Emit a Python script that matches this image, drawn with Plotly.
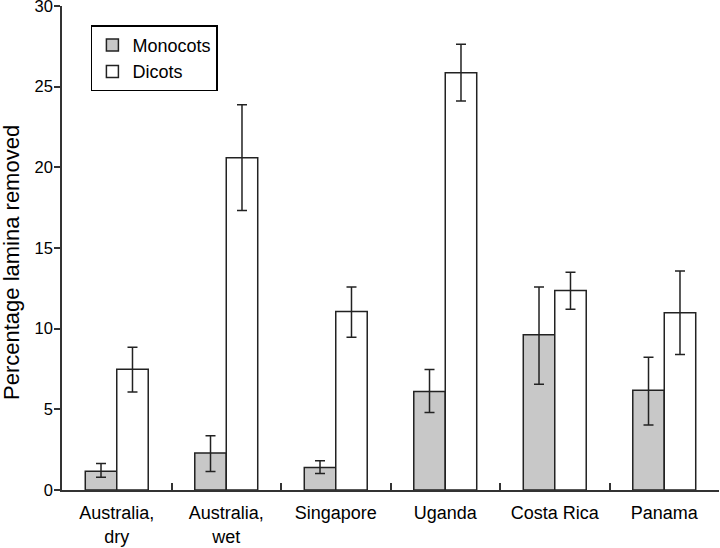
import plotly.graph_objects as go

cat_keys = ["Australia, dry", "Australia, wet", "Singapore", "Uganda", "Costa Rica", "Panama"]
tick_text = ["Australia,<br>dry", "Australia,<br>wet", "Singapore", "Uganda", "Costa Rica", "Panama"]

mono_vals = [1.16, 2.30, 1.39, 6.10, 9.62, 6.18]
mono_hi = [1.64, 3.37, 1.82, 7.47, 12.59, 8.23]
mono_lo = [0.79, 1.14, 1.02, 4.80, 6.56, 4.03]

dicot_vals = [7.49, 20.60, 11.07, 25.87, 12.37, 10.98]
dicot_hi = [8.85, 23.88, 12.59, 27.63, 13.49, 13.57]
dicot_lo = [6.08, 17.33, 9.47, 24.11, 11.21, 8.40]

y_ticks = [0, 5, 10, 15, 20, 25, 30]

def err(vals, hi, lo):
    return dict(type="data", symmetric=False,
                array=[h - v for h, v in zip(hi, vals)],
                arrayminus=[v - l for v, l in zip(vals, lo)],
                color="#222222", thickness=1.5, width=5)

fig = go.Figure()
fig.add_trace(go.Bar(name="Monocots", x=cat_keys, y=mono_vals,
                     marker=dict(color="#c8c8c8", line=dict(color="#222222", width=1.5)),
                     error_y=err(mono_vals, mono_hi, mono_lo)))
fig.add_trace(go.Bar(name="Dicots", x=cat_keys, y=dicot_vals,
                     marker=dict(color="white", line=dict(color="#222222", width=1.5)),
                     error_y=err(dicot_vals, dicot_hi, dicot_lo)))

font_family = "Liberation Sans, Arial, Helvetica, sans-serif"

fig.add_annotation(text="Percentage lamina removed", xref="paper", yref="paper",
                   x=0, xshift=-51, y=(490 - 263) / 484, textangle=-90,
                   xanchor="center", yanchor="middle", showarrow=False,
                   font=dict(family=font_family, size=22, color="black"))

fig.update_layout(
    width=720, height=548,
    margin=dict(l=62, r=1, t=6, b=58),
    paper_bgcolor="white", plot_bgcolor="white",
    font=dict(family=font_family, size=18, color="black"),
    barmode="group", bargap=0.425, bargroupgap=0,
    showlegend=True,
    legend=dict(x=0.044, y=0.96, xanchor="left", yanchor="top",
                bordercolor="black", borderwidth=1.5, bgcolor="white",
                font=dict(size=18), itemwidth=30),
    xaxis=dict(tickmode="array", tickvals=cat_keys, ticktext=tick_text,
               automargin=False, ticklabelstandoff=6,
               showline=True, linecolor="#333333", linewidth=1.5,
               ticks="inside", tickson="boundaries", ticklen=7, tickwidth=1.5, tickcolor="#333333",
               showgrid=False, zeroline=False, tickfont=dict(size=18)),
    yaxis=dict(range=[0, 30], tickvals=y_ticks, automargin=False, ticklabeloverflow="allow",
               ticklabelstandoff=-2,
               showline=True, linecolor="#333333", linewidth=1.5,
               ticks="outside", ticklen=6, tickwidth=1.5, tickcolor="#333333",
               showgrid=False, zeroline=False, tickfont=dict(size=16.5)),
)

fig.write_html("out.html", config={"displayModeBar": False},
               post_script="document.body.style.margin='0';document.body.style.padding='0';")
